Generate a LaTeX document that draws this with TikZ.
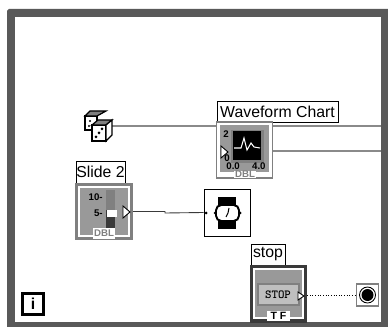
\documentclass[tikz,border=0pt]{standalone}
\usepackage{fontspec}
\setmainfont{Liberation Sans}
\usepackage{xcolor}
\usetikzlibrary{arrows.meta, positioning, backgrounds}
\definecolor{framegray}{HTML}{595959}
\definecolor{icongray}{HTML}{999999}
\definecolor{wiregray}{HTML}{8A8A8A}
\definecolor{darkgray}{HTML}{3A3A3A}

\begin{document}
\begin{tikzpicture}[
    x=0.02cm, y=-0.02cm,
    caption/.style={draw=black, fill=white, line width=0.5pt, inner sep=0pt, font=\fontsize{9}{10}\selectfont, anchor=center},
    icon/.style 2 args={draw=#2, fill=icongray, line width=0.8pt, inner sep=0pt, minimum width=#1*0.02cm, minimum height=#1*0.02cm},
    tag/.style={fill=white, inner sep=0pt, minimum width=22*0.02cm, minimum height=11*0.02cm, font=\fontsize{5.5}{6}\selectfont\bfseries, text=gray},
    tick/.style={font=\fontsize{5.5}{6}\selectfont\bfseries, inner sep=0pt},
    wire/.style={draw=wiregray, line width=0.7pt},
    terminal/.style={draw=black, fill=white, line width=0.5pt},
]
    \useasboundingbox (0,0) rectangle (388,327);

    % Loop frame
    \begin{scope}[on background layer]
        \fill[framegray] (7,11) -- (9,9) -- (388,9) -- (388,327) -- (7,327) -- cycle;
        \fill[white] (15,17) rectangle (381,322);
    \end{scope}

    % Loop index
    \node[draw=black, line width=1.2pt, minimum size=21*0.02cm, inner sep=0pt, font=\fontsize{9}{10}\selectfont\bfseries] (index) at (33,304) {i};

    % Random number
    \node[minimum size=28*0.02cm, inner sep=0pt] (dice) at (98,126) {};
    \filldraw[fill=white, line width=0.7pt] (85,116) -- (97,116) -- (97,130) -- (85,130) -- cycle;
    \filldraw[fill=gray, line width=0.7pt] (85,116) -- (90,111) -- (106,111) -- (97,116) -- cycle;
    \filldraw[fill=white, line width=0.7pt] (92,125) -- (106,125) -- (106,141) -- (92,141) -- cycle;
    \filldraw[fill=gray, line width=0.7pt] (92,125) -- (98,120) -- (112,120) -- (106,125) -- cycle;
    \filldraw[fill=white, line width=0.7pt] (106,125) -- (112,120) -- (112,135) -- (106,141) -- cycle;
    \fill (96,137) circle (1.5) (99,133) circle (1.5) (102,129) circle (1.5) (90,121) circle (1.2) (89,126) circle (1.2);

    % Chart
    \node[caption, minimum width=121*0.02cm, minimum height=21*0.02cm] (chartlabel) at (277.5,111.5) {Waveform Chart};
    \node[icon={56}{gray}, fill=white] (chart) at (244.5,150) {};
    \fill[icongray] (220,125) rectangle (269,172);
    \fill[gray] (231,130) rectangle (264,163);
    \fill[black] (233,131) rectangle (261,160);
    \draw[white, line width=0.6pt] (234,148) -- (241,148) -- (244,138) -- (247,150) -- (251,143) -- (254,147) -- (260,148);
    \node[tick] (charttop) at (226,134) {2};
    \node[tick] (chartlow) at (227,158) {0};
    \node[tick] (chartaxis) at (246,166) {0.0\hspace{7pt}4.0};
    \draw[terminal] (221,146) -- (228,152) -- (221,158) -- cycle;
    \node[tag, minimum height=7*0.02cm] (charttag) at (245,174.5) {DBL};

    % Slide
    \node[caption, minimum width=49*0.02cm, minimum height=22*0.02cm] (slidelabel) at (100.5,172) {Slide 2};
    \node[icon={56}{gray}, fill=gray] (slide) at (104,211.5) {};
    \draw[white, line width=0.6pt, fill=icongray] (79,187) rectangle (129,236);
    \fill[darkgray] (106,190) rectangle (115,233);
    \fill[gray] (106,190) rectangle (115,210);
    \fill[white] (107,210) rectangle (117,217);
    \node[tick, anchor=east] (slideten) at (103,197) {10-};
    \node[tick, anchor=east] (slidefive) at (103,213) {5-};
    \draw[terminal] (123,206) -- (130,212) -- (123,218) -- cycle;
    \node[tag] (slidetag) at (104,233.5) {DBL};

    % Watch
    \node[draw=black, fill=white, line width=0.5pt, minimum width=46*0.02cm, minimum height=47*0.02cm, inner sep=0pt] (watch) at (227,212.5) {};
    \fill[black] (218,197) rectangle (236,229);
    \filldraw[fill=white, line width=1.1pt, rounded corners=3pt] (216,205) rectangle (239,221);
    \draw[line width=0.6pt] (228,213) -- (229,208) (228,213) -- (226,217);
    \fill (240,213) circle (1.5) (215,213) circle (1.5) (206,213) circle (1.5);

    % Stop
    \node[caption, minimum width=34*0.02cm, minimum height=21*0.02cm] (stoplabel) at (268,254.5) {stop};
    \node[icon={56}{darkgray}, fill=darkgray] (stop) at (278.5,294) {};
    \draw[white, line width=0.6pt, fill=icongray] (254,269) rectangle (303,318);
    \filldraw[draw=gray, fill=lightgray, line width=0.6pt] (258,284) rectangle (299,305);
    \node[font=\fontsize{7}{7}\ttfamily\bfseries, inner sep=0pt] (stoptext) at (278,295) {STOP};
    \draw[terminal] (298,292) -- (304,296) -- (298,300) -- cycle;
    \node[tag, text=black, minimum width=23*0.02cm, minimum height=10*0.02cm, font=\fontsize{6}{6}\selectfont\bfseries] (stoptag) at (278.5,316) {T F};

    % Stop terminal
    \node[draw=gray, fill=white, line width=0.8pt, minimum size=22*0.02cm, inner sep=0pt] (condition) at (367.5,295) {};
    \draw[line width=0.5pt] (condition.center) circle (8);
    \fill (condition.center) circle (6);

    % Wires
    \coordinate (randomend) at (381,126);
    \coordinate (chartend) at (381,151);
    \coordinate (jog) at (165,213);
    \begin{scope}[on background layer]
        \draw[wire] (dice) -- (randomend);
        \draw[wire] (chart.east |- chartend) -- (chartend);
        \draw[wire, draw=darkgray, line width=0.5pt] (slide.east) -| (jog) -- (watch.west);
        \draw[line width=0.5pt, densely dotted] (stop.east |- condition) -- (condition.west);
    \end{scope}
\end{tikzpicture}
\end{document}
